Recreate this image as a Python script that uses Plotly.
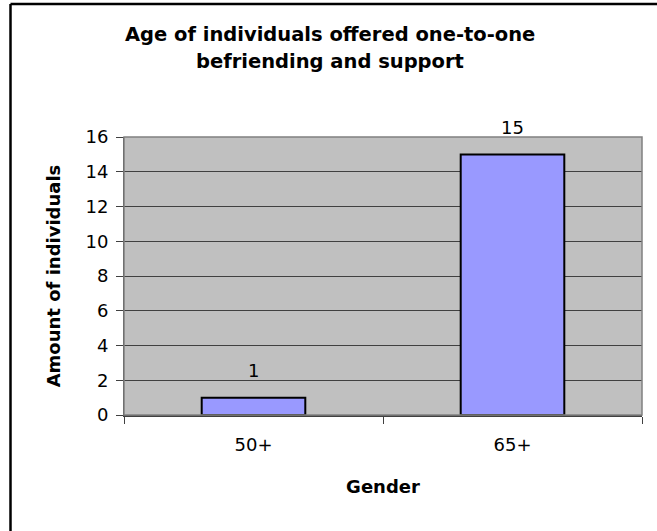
import plotly.graph_objects as go

# Data
age_groups = ["50+", "65+"]
individuals = [1, 15]
y_ticks = [0, 2, 4, 6, 8, 10, 12, 14, 16]
title_lines = ["Age of individuals offered one-to-one", "befriending and support"]

W, H = 657, 531
L, R, T, B = 124, 15, 137, 116
pw, ph = W - L - R, H - T - B

def px_x(x):
    return (x - L) / pw

def px_y(y):
    return (H - B - y) / ph

font = "DejaVu Sans, Arial, sans-serif"
fs = 18

fig = go.Figure()
fig.add_trace(go.Bar(
    x=age_groups,
    y=individuals,
    width=0.4,
    marker=dict(color="#9999FF", line=dict(color="black", width=2)),
    hoverinfo="x+y",
))

# value labels above each bar
for cat, val in zip(age_groups, individuals):
    fig.add_annotation(
        x=cat, y=val, text=str(val), showarrow=False,
        yanchor="middle", yshift=27,
        font=dict(family=font, size=fs, color="black"),
    )

# two-line chart title
for line, yc in zip(title_lines, [34, 62]):
    fig.add_annotation(
        xref="paper", yref="paper", x=px_x(330), y=px_y(yc),
        xanchor="center", yanchor="middle", showarrow=False,
        text="<b>%s</b>" % line,
        font=dict(family=font, size=19.5, color="black"),
    )

# chart frame (top and left edges)
bx, by = px_x(10.5), px_y(4)
fig.add_shape(type="line", xref="paper", yref="paper",
              x0=bx, y0=by, x1=px_x(W + 10), y1=by,
              line=dict(color="black", width=2.5))
fig.add_shape(type="line", xref="paper", yref="paper",
              x0=bx, y0=by, x1=bx, y1=px_y(H + 10),
              line=dict(color="black", width=2.5))

fig.update_layout(
    width=W, height=H,
    margin=dict(l=L, r=R, t=T, b=B, autoexpand=False),
    paper_bgcolor="white",
    plot_bgcolor="#C0C0C0",
    showlegend=False,
    font=dict(family=font, size=fs, color="black"),
    xaxis=dict(
        type="category",
        range=[-0.5, 1.5],
        tickson="boundaries",
        ticks="outside", ticklen=7, tickcolor="#404040", tickwidth=1,
        ticklabelstandoff=13,
        showline=True, linecolor="#404040", linewidth=1.5, mirror=False,
        showgrid=False,
        tickfont=dict(family=font, size=fs),
        title=dict(text="<b>Gender</b>", font=dict(family=font, size=fs), standoff=26),
    ),
    yaxis=dict(
        range=[0, 16],
        tickvals=y_ticks,
        ticks="outside", ticklen=7, tickcolor="#404040", tickwidth=1,
        ticklabelstandoff=4,
        showline=True, linecolor="#404040", linewidth=1, mirror=False,
        showgrid=True, gridcolor="#404040", gridwidth=1,
        zeroline=False,
        tickfont=dict(family=font, size=fs),
        title=dict(text="<b>Amount of individuals</b>", font=dict(family=font, size=fs), standoff=20),
    ),
)

# plot-area outline on the top and right
fig.add_shape(type="rect", xref="paper", yref="paper", x0=0, y0=0, x1=1, y1=1,
              line=dict(color="#808080", width=1.5), fillcolor="rgba(0,0,0,0)", layer="above")

fig.write_html("out.html")
